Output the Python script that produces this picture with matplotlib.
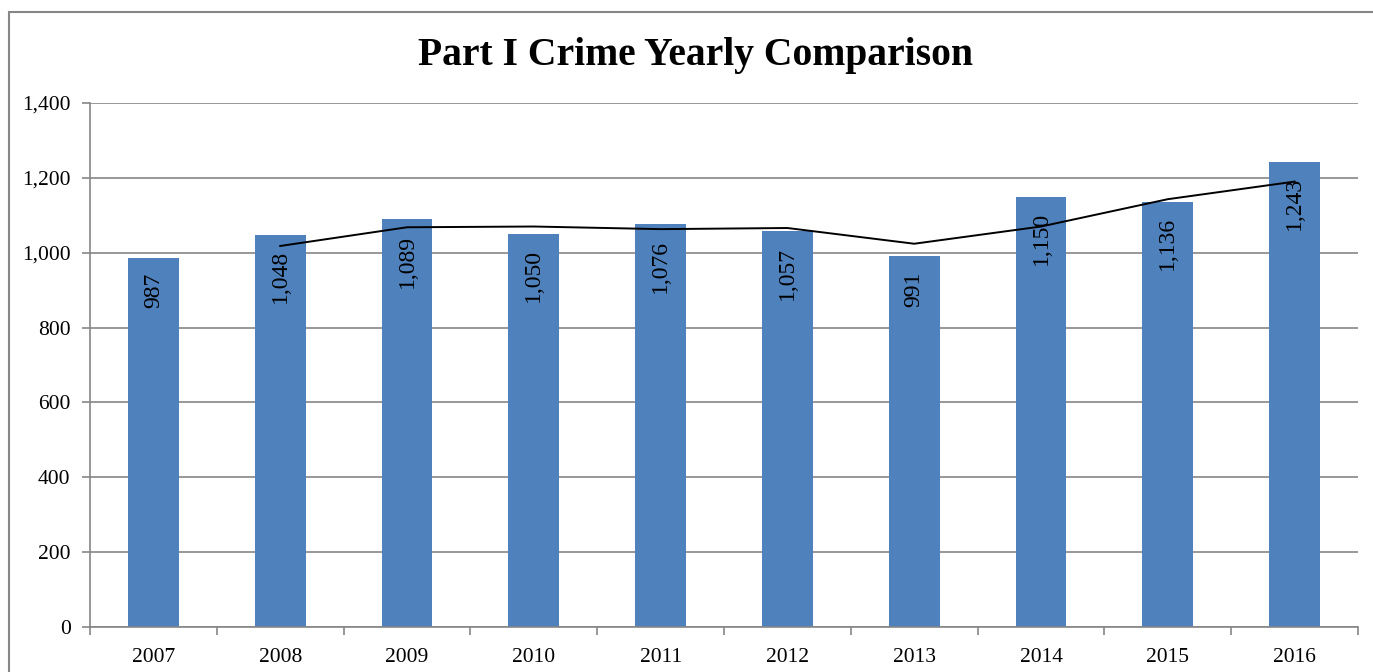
import numpy as np
import matplotlib.pyplot as plt
from matplotlib.patches import Rectangle
from matplotlib.ticker import FuncFormatter, MultipleLocator

years = ['2007', '2008', '2009', '2010', '2011', '2012', '2013', '2014', '2015', '2016']
crimes = [987, 1048, 1089, 1050, 1076, 1057, 991, 1150, 1136, 1243]
# trend line (no point for 2007)
trend = [np.nan, 1018, 1068, 1070, 1063, 1066, 1024, 1070, 1143, 1190]

plt.rcParams['font.family'] = ['Liberation Serif', 'DejaVu Serif']

fig = plt.figure(figsize=(13.73, 6.72), dpi=100)
ax = fig.add_axes([90 / 1373, 1 - 627 / 672, (1358 - 90) / 1373, (627 - 103) / 672])

x = np.arange(len(years))
grey = '#868686'

ax.bar(x, crimes, width=0.4, color='#4F81BD', zorder=2)
ax.plot(x, trend, color='black', lw=1.4, zorder=3)

for xi, v in zip(x, crimes):
    ax.annotate(f'{v:,}', (xi, v), xytext=(0, -11), textcoords='offset points',
                rotation=90, ha='center', va='top', fontsize=17, color='black', zorder=4)

ax.set_xlim(-0.5, len(years) - 0.5)
ax.set_ylim(0, 1400)
ax.yaxis.set_major_locator(MultipleLocator(200))
ax.yaxis.set_major_formatter(FuncFormatter(lambda v, p: f'{int(v):,}'))
ax.grid(axis='y', color=grey, lw=1.2, zorder=1)

ax.set_xticks(x)
ax.set_xticklabels(years)
ax.set_xticks(np.arange(-0.5, len(years)), minor=True)
ax.tick_params(axis='x', which='major', length=0, labelsize=15.5, pad=15)
ax.tick_params(axis='x', which='minor', length=6, color=grey, width=1.2)
ax.tick_params(axis='y', length=6, color=grey, width=1.2, labelsize=15.5, pad=8)

for side in ['top', 'right']:
    ax.spines[side].set_visible(False)
for side in ['left', 'bottom']:
    ax.spines[side].set_color(grey)
    ax.spines[side].set_linewidth(1.2)

fig.text(695 / 1373, 1 - 55 / 672, 'Part I Crime Yearly Comparison',
         ha='center', va='center', fontsize=28.5, fontweight='bold')

fig.patches.append(Rectangle((9 / 1373, -0.1), 1.2, 1.1 - 12 / 672, transform=fig.transFigure,
                             fill=False, edgecolor=grey, lw=1.5))

fig.savefig('out.png', dpi=100)
